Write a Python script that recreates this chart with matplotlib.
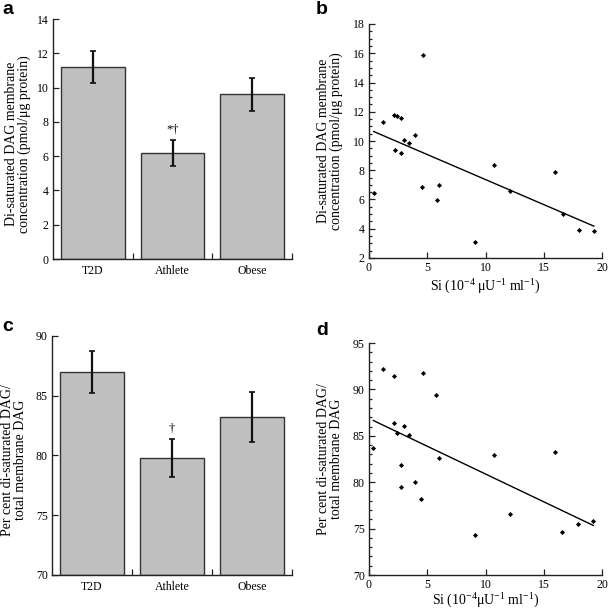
import numpy
import matplotlib
matplotlib.use('Agg')
import matplotlib.pyplot as pyplot


# Data

groups = ['T2D', 'Athlete', 'Obese']

dag_mean = [11.2, 6.2, 9.6]
dag_err  = [0.95, 0.75, 0.95]

pct_mean = [87.0, 79.8, 83.2]
pct_err  = [1.75, 1.6, 2.1]

si_b  = [0.4, 1.2, 2.17, 2.4, 2.78, 2.23, 2.72, 3.03, 3.4, 3.95, 4.6,
         4.52, 5.81, 6.0, 9.13, 10.76, 12.13, 16.0, 16.65, 18.0, 19.3]
dag_b = [6.47, 11.3, 11.8, 11.71, 11.57, 9.36, 9.16, 10.07, 9.89, 10.39, 15.85,
         6.88, 5.99, 6.99, 3.07, 8.36, 6.6, 7.9, 4.99, 3.94, 3.85]

si_d  = [0.37, 1.17, 2.17, 4.61, 5.78, 2.17, 2.38, 2.98, 3.41, 2.75, 2.72,
         3.95, 4.49, 5.98, 9.13, 10.7, 12.1, 15.95, 16.6, 17.94, 19.26]
pct_d = [83.7, 92.18, 91.47, 91.8, 89.4, 86.33, 85.3, 86.1, 85.04, 81.8, 79.5,
         80.03, 78.14, 82.64, 74.3, 82.9, 76.6, 83.3, 74.65, 75.5, 75.8]


# Style

pyplot.rcParams['font.family'] = ['Liberation Serif', 'DejaVu Serif']
pyplot.rcParams['mathtext.fontset'] = 'custom'
pyplot.rcParams['mathtext.rm'] = 'Liberation Serif'
pyplot.rcParams['mathtext.it'] = 'Liberation Serif:italic'
pyplot.rcParams['mathtext.bf'] = 'Liberation Serif:bold'

ink = '#222222'
barFill = '#c0c0c0'
tickSize = 8.5
labelSize = 10
siLabel_b = r'$\mathrm{Si\ (10^{-4}\ μU^{-1}\ ml^{-1})}$'
siLabel_d = r'$\mathrm{Si\ (10^{-4}μU^{-1}\ ml^{-1})}$'


def style(ax):
    for side in ['top', 'right']:
        ax.spines[side].set_visible(False)
    for side in ['left', 'bottom']:
        ax.spines[side].set_linewidth(1.0)
        ax.spines[side].set_color(ink)
    ax.tick_params(which='both', direction='in', colors=ink, labelcolor='black',
                   labelsize=tickSize, width=0.9)
    ax.tick_params(which='major', length=4, pad=3)
    ax.tick_params(which='minor', length=2)


def barPanel(ax, means, errs, ylim, yticks, ylabel, mark, markY):
    x = numpy.arange(len(groups))
    ax.bar(x, [m - ylim[0] for m in means], bottom=ylim[0], width=0.8,
           color=barFill, edgecolor='#333333', linewidth=1.0, zorder=2)
    ax.errorbar(x, means, yerr=errs, fmt='none', ecolor='#111111',
                elinewidth=1.6, capsize=2, capthick=1.2, zorder=3)
    ax.set_xlim(-0.5, len(groups) - 0.5)
    ax.set_ylim(*ylim)
    ax.set_yticks(yticks)
    ax.set_xticks(x + 0.5)
    ax.set_xticklabels([])
    ax.set_xticks(x, minor=True)
    ax.set_xticklabels(groups, minor=True)
    style(ax)
    ax.tick_params(axis='x', which='minor', length=0, pad=4)
    ax.set_ylabel(ylabel, fontsize=labelSize, linespacing=1.0)
    ax.text(1, markY, mark, ha='center', va='center', fontsize=9)


def scatterPanel(ax, xs, ys, xlim, ylim, yticks, yminor, ylabel, xlabel):
    ax.plot(xs, ys, 'D', color='black', markersize=2.6, markeredgewidth=0)
    slope, intercept = numpy.polyfit(xs, ys, 1)
    lineX = numpy.array([min(xs), max(xs)])
    ax.plot(lineX, intercept + slope * lineX, color='black', linewidth=1.0)
    ax.set_xlim(*xlim)
    ax.set_ylim(*ylim)
    ax.set_xticks([0, 5, 10, 15, 20])
    ax.set_yticks(yticks)
    ax.set_yticks(yminor, minor=True)
    style(ax)
    ax.set_ylabel(ylabel, fontsize=labelSize, linespacing=1.0)
    ax.set_xlabel(xlabel, fontsize=labelSize)


fig = pyplot.figure(figsize=(6.09, 6.12), dpi=100)

axA = fig.add_axes([53 / 609, (612 - 259) / 612, 239 / 609, 240 / 612])
axB = fig.add_axes([369 / 609, (612 - 258) / 612, 233 / 609, 234 / 612])
axC = fig.add_axes([52 / 609, (612 - 575) / 612, 240 / 609, 239 / 612])
axD = fig.add_axes([369 / 609, (612 - 575) / 612, 233 / 609, 232 / 612])

barPanel(axA, dag_mean, dag_err, (0, 14), range(0, 15, 2),
         'Di-saturated DAG membrane\nconcentration (pmol/μg protein)', '*†', 7.55)
barPanel(axC, pct_mean, pct_err, (70, 90), range(70, 91, 5),
         'Per cent di-saturated DAG/\ntotal membrane DAG', '†', 82.3)

scatterPanel(axB, si_b, dag_b, (0, 20), (2, 18), range(2, 19, 2),
             numpy.arange(2, 18.01, 0.5),
             'Di-saturated DAG membrane\nconcentration (pmol/μg protein)', siLabel_b)
scatterPanel(axD, si_d, pct_d, (0, 20), (70, 95), range(70, 96, 5),
             range(70, 96),
             'Per cent di-saturated DAG/\ntotal membrane DAG', siLabel_d)

axA.yaxis.set_label_coords(-0.09, 0.48)
axC.yaxis.set_label_coords(-0.104, 0.48)
axB.yaxis.set_label_coords(-0.11, 0.5)
axD.yaxis.set_label_coords(-0.11, 0.5)
axB.xaxis.set_label_coords(0.5, -0.085)
axD.xaxis.set_label_coords(0.5, -0.073)

letterFont = dict(fontsize=14, fontweight='bold', family='Liberation Sans',
                  va='top', ha='left')
fig.text(2 / 609, 1 - 1 / 612, 'a', **letterFont)
fig.text(316 / 609, 1 - 1 / 612, 'b', **letterFont)
fig.text(2 / 609, 1 - 318 / 612, 'c', **letterFont)
fig.text(316 / 609, 1 - 322 / 612, 'd', **letterFont)

pyplot.savefig('out.png', dpi=100)
pyplot.clf()
